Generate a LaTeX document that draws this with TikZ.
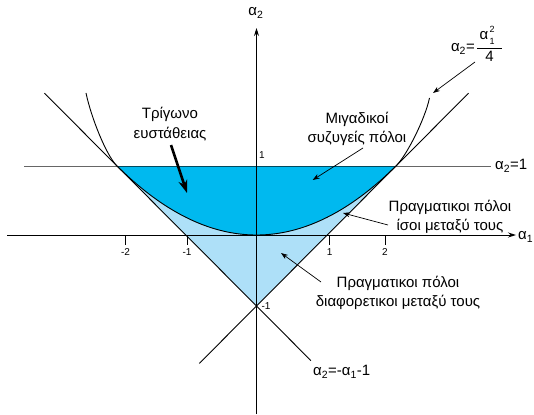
\documentclass[tikz,border=0pt]{standalone}
\usepackage{fontspec}
\setmainfont{Liberation Sans}
\usetikzlibrary{arrows.meta,calc}
\definecolor{darkfill}{HTML}{00B9EF}
\definecolor{lightfill}{HTML}{AEE0F8}
\newcommand{\lblfont}{\fontsize{15}{19.5}\selectfont}
\newcommand{\tckfont}{\fontsize{10}{11}\selectfont}
\newcommand{\idxfont}{\fontsize{9}{9}\selectfont}
\newcommand{\al}[1]{α\textsubscript{#1}}
\begin{document}
\begin{tikzpicture}[x=1pt,y=-1pt,
  axisline/.style={line width=0.9pt,-{Stealth[length=8pt,width=5pt]}},
  curveline/.style={line width=0.9pt},
  thinarrow/.style={line width=0.7pt,-{Stealth[length=7pt,width=5pt]}},
  boldarrow/.style={line width=2.6pt,-{Stealth[length=13pt,width=9pt]}},
  txt/.style={font=\lblfont, align=center, inner sep=0pt},
  ticktxt/.style={font=\tckfont, inner sep=0pt},
  idxtxt/.style={font=\idxfont, inner sep=0pt}]
\useasboundingbox (0,0) rectangle (534,414);
% key points
\coordinate (O) at (256.5,235);
\coordinate (V) at (256.5,306);
\coordinate (CL) at (117,166);
\coordinate (CR) at (396,166);
% fills
\fill[lightfill] (CL) -- (CR) -- (V) -- cycle;
\fill[darkfill] (CL) -- plot[domain=117:396,samples=90]
  (\x,{235-69*((\x-256.5)/139.5)*((\x-256.5)/139.5)}) -- cycle;
% alpha2 = 1 line
\coordinate (H1) at (24,166);
\coordinate (H2) at (491,166);
\draw[line width=0.9pt,black,opacity=0.6] (H1) -- (H2);
% stability lines
\coordinate (L1a) at ($(V)!1.52!(CL)$);
\coordinate (L1b) at ($(V)!-0.39!(CL)$);
\coordinate (L2a) at ($(V)!1.52!(CR)$);
\coordinate (L2b) at ($(V)!-0.41!(CR)$);
\draw[curveline] (L1a) -- (L1b);
\draw[curveline] (L2a) -- (L2b);
% parabola
\coordinate (PL) at (86,93);
\coordinate (PR) at (429.5,98);
\draw[curveline] (PL) .. controls (91,117) and (106,155) .. (CL)
  -- plot[domain=117:396,samples=90]
  (\x,{235-69*((\x-256.5)/139.5)*((\x-256.5)/139.5)})
  .. controls (407,155) and (425,119) .. (PR);
% axes
\coordinate (xs) at (7,235);
\coordinate (xe) at (516,235);
\coordinate (ys) at (256.5,414);
\coordinate (ye) at (256.5,28);
\draw[axisline] (xs) -- (xe);
\draw[axisline] (ys) -- (ye);
% ticks
\foreach \t/\lab/\nm in {125.6/-2/tm2,187/-1/tm1,329.7/1/tp1,385/2/tp2}{
  \coordinate (\nm a) at (\t,235);
  \coordinate (\nm b) at (\t,245);
  \draw[line width=0.8pt] (\nm a) -- (\nm b);
  \node[ticktxt] (\nm l) at (\t,252) {\lab};
}
\node[ticktxt] (one) at (262,155) {1};
\node[ticktxt] (mone) at (266,306) {-1};
% axis labels
\node[txt] (a2lab) at (256,13) {\al{2}};
\node[txt,anchor=west] (a1lab) at (518,237) {\al{1}};
\node[txt,anchor=west] (h1lab) at (495,166) {\al{2}=1};
\node[txt,anchor=west] (l1lab) at (313,372) {\al{2}=-\al{1}-1};
% parabola label alpha2 = alpha1^2/4
\node[txt,anchor=base east] (parlhs) at (475,52) {\al{2}=};
\node[txt,anchor=base] (parnum) at (484,40) {α};
\node[idxtxt,anchor=base west] (parsup) at (489.5,33) {2};
\node[idxtxt,anchor=base west] (parsub) at (489.5,44.5) {1};
\coordinate (barl) at (477,48);
\coordinate (barr) at (502,48);
\draw[line width=0.8pt] (barl) -- (barr);
\node[txt,anchor=base] (parden) at (489.5,62) {4};
% region labels
\node[txt] (tri) at (170,124) {Τρίγωνο\\ευστάθειας};
\node[txt] (cplx) at (357,129) {Μιγαδικοί\\συζυγείς πόλοι};
\node[txt] (req) at (450,217) {Πραγματικοι πόλοι\\ίσοι μεταξύ τους};
\node[txt] (rdiff) at (398,293) {Πραγματικοι πόλοι\\διαφορετικοι μεταξύ τους};
% pointer arrows
\coordinate (tris) at (171,145);
\coordinate (trie) at (187,193);
\draw[boldarrow] (tris) -- (trie);
\coordinate (cplxs) at (363,148);
\coordinate (cplxe) at (312.7,180);
\draw[thinarrow] (cplxs) -- (cplxe);
\coordinate (reqs) at (388,225);
\coordinate (reqe) at (343,213);
\draw[thinarrow] (reqs) -- (reqe);
\coordinate (rdiffs) at (321,282);
\coordinate (rdiffe) at (281,253);
\draw[thinarrow] (rdiffs) -- (rdiffe);
\coordinate (pars) at (475,62);
\coordinate (pare) at (433,93);
\draw[thinarrow] (pars) -- (pare);
\end{tikzpicture}
\end{document}
